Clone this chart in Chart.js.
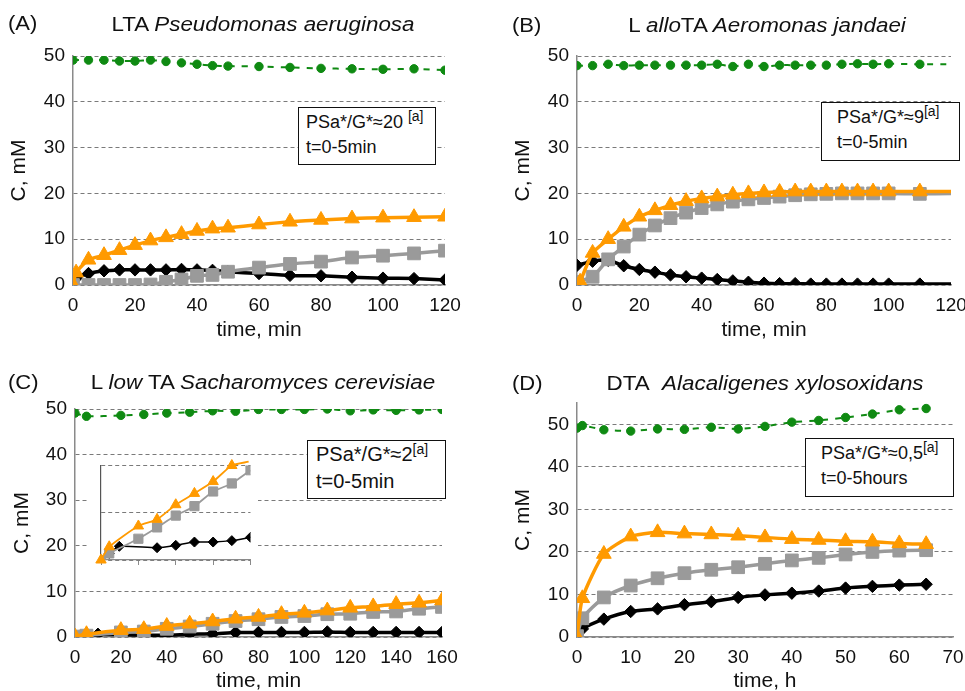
<!DOCTYPE html>
<html>
<head>
<meta charset="utf-8">
<script src="https://cdn.jsdelivr.net/npm/chart.js@4.4.1/dist/chart.umd.min.js"></script>
<style>
  body { margin: 0; background: #fff; width: 965px; height: 691px; overflow: hidden; position: relative;
         font-family: Arial, "Liberation Sans", sans-serif; color: #111; }
  canvas { position: absolute; }
  .tag, .ttl { position: absolute; font-size: 20px; line-height: 20px; white-space: nowrap; }
  .tag { transform: scaleX(1.1); transform-origin: left center; }
  .ttl { transform: translateX(-50%) scaleX(1.12); }
  .note { position: absolute; box-sizing: border-box; border: 1.5px solid #111; background: #fff;
          font-size: 18px; line-height: 25px; white-space: nowrap; }
  .note sup { font-size: 14px; vertical-align: 7px; line-height: 0; }
</style>
</head>
<body>
<canvas id="chartA" width="480" height="345" style="left:0;top:0"></canvas>
<canvas id="chartB" width="485" height="345" style="left:480px;top:0"></canvas>
<canvas id="chartC" width="480" height="346" style="left:0;top:345px"></canvas>
<canvas id="chartD" width="485" height="346" style="left:480px;top:345px"></canvas>
<canvas id="chartCin" width="171" height="127" style="left:87px;top:458px;background:#fff"></canvas>

<div class="tag" style="left:8px;top:13px">(A)</div>
<div class="ttl" style="left:263px;top:14px">LTA <i>Pseudomonas aeruginosa</i></div>
<div class="tag" style="left:512px;top:15px">(B)</div>
<div class="ttl" style="left:767px;top:15px">L <i>allo</i>TA <i>Aeromonas jandaei</i></div>
<div class="tag" style="left:8px;top:372px">(C)</div>
<div class="ttl" style="left:263px;top:372px">L <i>low</i> TA <i>Sacharomyces cerevisiae</i></div>
<div class="tag" style="left:512px;top:373px">(D)</div>
<div class="ttl" style="left:765px;top:373px">DTA&nbsp; <i>Alacaligenes xylosoxidans</i></div>

<div class="note" style="left:298px;top:107px;width:138px;height:58px;padding:2px 0 0 7px">PSa*/G*≈20 <sup>[a]</sup><br>t=0-5min</div>
<div class="note" style="left:821px;top:102px;width:139px;height:59px;padding:2px 0 0 15px">PSa*/G*≈9<sup>[a]</sup><br>t=0-5min</div>
<div class="note" style="left:307px;top:440px;width:139px;height:59px;padding:0 0 0 8px;font-size:20px;line-height:27px">PSa*/G*≈2<sup>[a]</sup><br>t=0-5min</div>
<div class="note" style="left:805px;top:438px;width:149px;height:59px;padding:2px 0 0 15px">PSa*/G*≈0,5<sup>[a]</sup><br>t=0-5hours</div>

<script>
(function () {
  "use strict";

  // ---------- Panel A: LTA Pseudomonas aeruginosa (time, min) ----------
  const aTime = [0, 5, 10, 15, 20, 25, 30, 35, 40, 45, 50, 60, 70, 80, 90, 100, 110, 120];
  const aGreen = [49.1, 49.1, 49.1, 48.9, 48.9, 49.1, 48.8, 48.5, 48.2, 47.9, 47.8, 47.7, 47.5, 47.3, 47.2, 47.1, 47.2, 46.9];
  const aGray = [0, 0, 0, 0, 0, 0.1, 0.7, 1.2, 2.0, 2.2, 2.9, 3.8, 4.6, 5.1, 6.0, 6.4, 6.9, 7.5];
  const aOrangeTime = [0, 1, 5, 10, 15, 20, 25, 30, 35, 40, 45, 50, 60, 70, 80, 90, 100, 110, 120];
  const aOrange = [0, 2.7, 5.5, 6.5, 7.6, 8.7, 9.7, 10.4, 11.1, 11.8, 12.3, 12.5, 13.2, 13.8, 14.2, 14.5, 14.7, 14.8, 14.9];
  const aBlackTime = [1, 5, 10, 15, 20, 25, 30, 35, 40, 45, 50, 60, 70, 80, 90, 100, 110, 120];
  const aBlack = [1.5, 2.5, 3.1, 3.3, 3.3, 3.3, 3.3, 3.4, 3.3, 3.2, 2.9, 2.5, 2.1, 2.0, 1.7, 1.5, 1.4, 1.1];

  // ---------- Panel B: L alloTA Aeromonas jandaei (time, min) ----------
  const bTime = [0, 5, 10, 15, 20, 25, 30, 35, 40, 45, 50, 55, 60, 65, 70, 75, 80, 85, 90, 95, 100, 110, 120];
  const bGreen = [47.9, 47.9, 48.2, 47.9, 48.0, 48.0, 48.0, 48.0, 48.0, 48.2, 47.7, 48.2, 47.7, 48.0, 48.0, 48.0, 48.0, 48.2, 48.3, 48.2, 48.3, 48.2, 48.2];
  const bOrangeTime = [1, 5, 10, 15, 20, 25, 30, 35, 40, 45, 50, 55, 60, 65, 70, 75, 80, 85, 90, 95, 100, 110, 120];
  const bOrange = [0.7, 7.0, 10.0, 12.7, 14.9, 16.3, 17.4, 18.3, 18.9, 19.3, 19.7, 20.0, 20.2, 20.3, 20.4, 20.4, 20.4, 20.4, 20.4, 20.4, 20.4, 20.4, 20.4];
  const bGray = [0.7, 1.8, 5.6, 8.4, 11.0, 13.0, 14.6, 15.8, 16.8, 17.6, 18.2, 18.7, 19.0, 19.3, 19.6, 19.8, 19.9, 20.0, 20.0, 20.0, 20.0, 19.9, 20.0];
  const bBlack = [4.3, 5.2, 5.4, 4.2, 3.4, 2.8, 2.2, 1.8, 1.5, 1.2, 0.9, 0.6, 0.4, 0.3, 0.3, 0.2, 0.2, 0.2, 0.2, 0.2, 0.2, 0.2, 0.2];

  // ---------- Panel C: L low TA Sacharomyces cerevisiae (time, min) ----------
  const cTime = [0, 5, 20, 30, 40, 50, 60, 70, 80, 90, 100, 110, 120, 130, 140, 150, 160];
  const cGreen = [49.1, 48.4, 48.6, 48.8, 49.1, 49.3, 49.6, 49.5, 49.9, 49.9, 49.9, 50.0, 49.6, 49.8, 49.7, 49.8, 49.9];
  const cOrange = [0.1, 0.6, 1.5, 1.7, 2.4, 2.9, 3.4, 4.0, 4.4, 5.0, 5.3, 5.8, 6.4, 6.7, 7.2, 7.5, 8.0];
  const cGray = [0.1, 0.3, 1.0, 1.2, 1.8, 2.3, 2.9, 3.5, 3.9, 4.4, 4.6, 5.0, 5.1, 5.5, 5.6, 6.2, 6.6];
  const cBlackTime = [0, 10, 20, 30, 40, 50, 60, 70, 80, 90, 100, 110, 120, 130, 140, 150, 160];
  const cBlack = [0.1, 0.6, 0.5, 0.4, 0.4, 0.6, 0.7, 1.0, 1.0, 1.0, 1.0, 1.1, 1.0, 1.0, 1.0, 1.0, 1.0];

  // inset of panel C (first minutes, no labels)
  const inOrangeTime = [0, 0.22, 1, 1.5, 2, 2.5, 3, 3.5, 3.95];
  const inOrange = [0, 0.28, 0.72, 0.86, 1.17, 1.41, 1.66, 2.0, 2.08];
  const inGrayTime = [0, 0.22, 1, 1.5, 2, 2.5, 3, 3.5, 4];
  const inGray = [0, 0.14, 0.45, 0.69, 0.94, 1.14, 1.45, 1.62, 1.9];
  const inBlackTime = [0, 0.22, 0.49, 1.5, 2, 2.5, 3, 3.5, 4];
  const inBlack = [0, 0.14, 0.29, 0.26, 0.31, 0.38, 0.38, 0.41, 0.48];

  // ---------- Panel D: DTA Alacaligenes xylosoxidans (time, h) ----------
  const dTime = [0, 1, 5, 10, 15, 20, 25, 30, 35, 40, 45, 50, 55, 60, 65];
  const dGreen = [49.1, 49.7, 48.7, 48.4, 48.9, 48.8, 49.3, 48.9, 49.5, 50.5, 50.9, 51.6, 52.4, 53.4, 53.7];
  const dOrange = [0, 9.1, 19.5, 23.6, 24.6, 24.3, 24.1, 23.8, 23.4, 23.0, 22.8, 22.5, 22.4, 22.0, 21.8];
  const dGray = [0.2, 4.4, 9.3, 12.1, 13.8, 15.0, 15.8, 16.4, 17.2, 18.0, 18.6, 19.4, 20.0, 20.3, 20.4];
  const dBlack = [0.2, 1.9, 4.2, 6.0, 6.6, 7.6, 8.3, 9.3, 9.9, 10.3, 10.8, 11.5, 11.9, 12.2, 12.4];

  // -------------------------
  // Styling helpers
  // -------------------------
  const GREEN = "#0f8a12";
  const ORANGE = "#ff9a00";
  const GRAY = "#9a9a9a";
  const BLACK = "#000000";
  const AXIS = "#8a8a8a";
  const FONT = "Arial, 'Liberation Sans', sans-serif";

  function pts(times, vals) {
    return times.map((t, i) => ({ x: t, y: vals[i] }));
  }

  // hide the marker of points past "bareAfter" (line only)
  function radiusFn(r, bareAfter) {
    if (bareAfter === undefined) return r;
    return (c) => (c.raw && c.raw.x > bareAfter ? 0 : r);
  }

  function lineSet(data, color, shape, r, width, bareAfter) {
    return {
      data: data,
      borderColor: color,
      backgroundColor: color,
      borderWidth: width,
      pointStyle: shape,
      pointRadius: radiusFn(r, bareAfter),
      pointBorderWidth: 1,
      pointBorderColor: color,
      pointBackgroundColor: color,
      tension: 0.2,
    };
  }

  function greenSet(data, bareAfter) {
    const ds = lineSet(data, GREEN, "circle", 4.2, 2, bareAfter);
    ds.borderDash = [6, 7];
    return ds;
  }

  function makePanel(id, o) {
    const el = document.getElementById(id);
    if (!el) return null;
    const ctx = el.getContext("2d");
    return new Chart(ctx, {
      type: "line",
      data: { datasets: o.datasets },
      options: {
        responsive: false,
        animation: false,
        devicePixelRatio: 1,
        layout: { padding: o.pad },
        plugins: { legend: { display: false }, tooltip: { enabled: false } },
        scales: {
          x: {
            type: "linear",
            min: 0,
            max: o.xMax,
            ticks: { stepSize: o.xStep, autoSkip: false, maxRotation: 0, padding: 9, color: "#111", font: { family: FONT, size: 19 } },
            grid: { display: true, drawOnChartArea: false, drawTicks: false },
            border: { display: true, color: AXIS, width: 1.5 },
            title: { display: true, text: o.xTitle, color: "#111", font: { family: FONT, size: 21, lineHeight: 1 }, padding: { top: 0, bottom: o.xTitlePad } },
            afterFit: (s) => { s.height = o.xH; s.paddingRight = 0; s.paddingLeft = 0; },
          },
          y: {
            min: 0,
            max: o.yMax,
            ticks: { stepSize: 10, includeBounds: false, padding: 8, color: "#111", font: { family: FONT, size: 19 } },
            grid: { color: "#7a7a7a", lineWidth: 1, drawTicks: false },
            border: { display: true, color: AXIS, width: 1.5, dash: [4, 3] },
            title: { display: true, text: "C, mM", color: "#111", font: { family: FONT, size: 21, lineHeight: 1 }, padding: { top: o.yTitlePad, bottom: 0 } },
            afterFit: (s) => { s.width = o.yW; s.paddingTop = 0; s.paddingBottom = 0; },
          },
        },
      },
    });
  }

  function bigSets(green, orange, gray, black, bareAfter) {
    // index 0 drawn on top
    return [
      lineSet(orange, ORANGE, "triangle", 8.5, 3.5, bareAfter),
      lineSet(gray, GRAY, "rect", 9, 3.5, bareAfter),
      lineSet(black, BLACK, "rectRot", 6.2, 3.5, bareAfter),
      greenSet(green, bareAfter),
    ];
  }

  window.__panels = {};

  try {
    window.__panels.A = makePanel("chartA", {
      datasets: bigSets(pts(aTime, aGreen), pts(aOrangeTime, aOrange), pts(aTime, aGray), pts(aBlackTime, aBlack)),
      pad: { top: 56, right: 35, left: 0, bottom: 0 },
      xMax: 120, xStep: 20, xTitle: "time, min", xH: 60, xTitlePad: 4,
      yMax: 50, yW: 73, yTitlePad: 9,
    });
  } catch (e) { console.error("panel A", e); }

  try {
    window.__panels.B = makePanel("chartB", {
      datasets: bigSets(pts(bTime, bGreen), pts(bOrangeTime, bOrange), pts(bTime, bGray), pts(bTime, bBlack), 115),
      pad: { top: 56, right: 14, left: 0, bottom: 0 },
      xMax: 120, xStep: 20, xTitle: "time, min", xH: 60, xTitlePad: 4,
      yMax: 50, yW: 97, yTitlePad: 33,
    });
  } catch (e) { console.error("panel B", e); }

  try {
    window.__panels.C = makePanel("chartC", {
      datasets: bigSets(pts(cTime, cGreen), pts(cTime, cOrange), pts(cTime, cGray), pts(cBlackTime, cBlack)),
      pad: { top: 64, right: 38, left: 0, bottom: 0 },
      xMax: 160, xStep: 20, xTitle: "time, min", xH: 54, xTitlePad: -1,
      yMax: 50, yW: 75, yTitlePad: 12,
    });
  } catch (e) { console.error("panel C", e); }

  try {
    window.__panels.D = makePanel("chartD", {
      datasets: bigSets(pts(dTime, dGreen), pts(dTime, dOrange), pts(dTime, dGray), pts(dTime, dBlack)),
      pad: { top: 58, right: 12, left: 0, bottom: 0 },
      xMax: 70, xStep: 10, xTitle: "time, h", xH: 54, xTitlePad: -1,
      yMax: 55, yW: 97, yTitlePad: 33,
    });
  } catch (e) { console.error("panel D", e); }

  // inset in panel C
  try {
    const el = document.getElementById("chartCin");
    const o = lineSet(pts(inOrangeTime, inOrange), ORANGE, "triangle", 6, 1.8, 3.9);
    o.clip = 8;
    const g = lineSet(pts(inGrayTime, inGray), GRAY, "rect", 6.5, 1.8);
    const k = lineSet(pts(inBlackTime, inBlack), BLACK, "rectRot", 5, 1.5);
    window.__panels.Cin = new Chart(el.getContext("2d"), {
      type: "line",
      data: { datasets: [o, g, k] },
      options: {
        responsive: false,
        animation: false,
        devicePixelRatio: 1,
        layout: { padding: { top: 5, right: 7, left: 0, bottom: 0 } },
        plugins: { legend: { display: false }, tooltip: { enabled: false } },
        scales: {
          x: {
            type: "linear", min: 0, max: 4,
            ticks: { stepSize: 1, display: false },
            grid: { display: true, drawOnChartArea: false, drawTicks: true, tickLength: 5, color: AXIS },
            border: { display: true, color: AXIS, width: 1.2 },
            afterFit: (s) => { s.height = 25; },
          },
          y: {
            min: 0, max: 2,
            ticks: { stepSize: 1, display: false },
            grid: { color: "#7a7a7a", drawTicks: false },
            border: { display: true, color: "#555", width: 1.2, dash: [4, 3] },
            afterFit: (s) => { s.width = 14; },
          },
        },
      },
    });
  } catch (e) { console.error("inset", e); }
})();
</script>
</body>
</html>
